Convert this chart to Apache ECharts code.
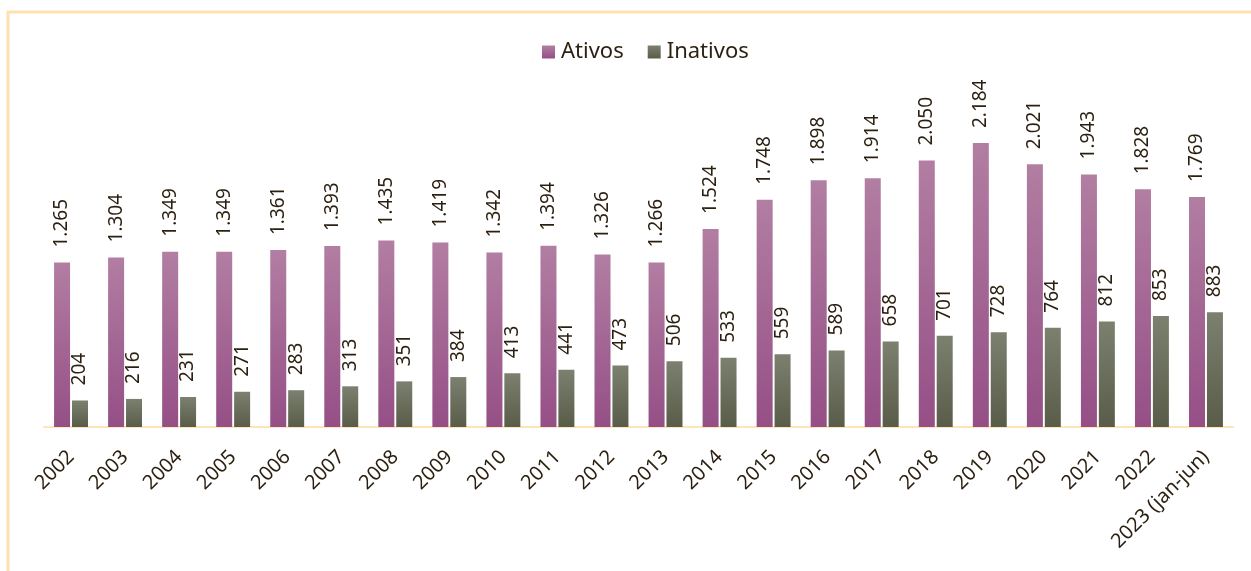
<!DOCTYPE html>
<html>
<head>
<meta charset="utf-8">
<script src="https://cdn.jsdelivr.net/npm/echarts@6/dist/echarts.min.js"></script>
<style>
  html, body { margin: 0; padding: 0; background: #fff; }
  #chart { width: 1251px; height: 571px; }
</style>
</head>
<body>
<div id="chart"></div>
<script>
const years = ['2002', '2003', '2004', '2005', '2006', '2007', '2008', '2009', '2010', '2011',
  '2012', '2013', '2014', '2015', '2016', '2017', '2018', '2019', '2020', '2021', '2022', '2023 (jan-jun)']
const ativos = [1265, 1304, 1349, 1349, 1361, 1393, 1435, 1419, 1342, 1394, 1326, 1266,
  1524, 1748, 1898, 1914, 2050, 2184, 2021, 1943, 1828, 1769]
const inativos = [204, 216, 231, 271, 283, 313, 351, 384, 413, 441, 473, 506,
  533, 559, 589, 658, 701, 728, 764, 812, 853, 883]

const textColor = '#2b1f10'
const font = 'Noto Sans'

// 1.265 style thousands separator
const fmt = v => String(v).replace(/\B(?=(\d{3})+(?!\d))/g, '.')

const grad = (top, bottom) => new echarts.graphic.LinearGradient(0, 0, 0, 1, [
  { offset: 0, color: top },
  { offset: 1, color: bottom }
])

const barLabel = {
  show: true,
  position: 'top',
  rotate: 90,
  align: 'left',
  verticalAlign: 'middle',
  distance: 15,
  color: textColor,
  fontFamily: font,
  fontSize: 19,
  formatter: p => fmt(p.value)
}

const chart = echarts.init(document.getElementById('chart'))
const option = {
  animation: false,
  textStyle: { fontFamily: font },
  legend: {
    top: 36,
    left: 537,
    itemWidth: 13,
    itemHeight: 13,
    itemGap: 24,
    itemStyle: { borderWidth: 0 },
    icon: 'rect',
    textStyle: { color: textColor, fontSize: 22, fontFamily: font, padding: [0, 0, 0, 1] }
  },
  graphic: [
    { type: 'line', shape: { x1: 7, y1: 12, x2: 1251, y2: 12 }, style: { stroke: '#ffe1b0', lineWidth: 3 } },
    { type: 'line', shape: { x1: 8, y1: 11, x2: 8, y2: 571 }, style: { stroke: '#ffe1b0', lineWidth: 3 } }
  ],
  grid: { left: 44, right: 18, top: 102, bottom: 144, containLabel: false },
  xAxis: {
    type: 'category',
    data: years,
    axisLine: { lineStyle: { color: '#ffe4b8', width: 2 } },
    axisTick: { show: false },
    axisLabel: {
      rotate: 45,
      margin: 27,
      interval: 0,
      color: textColor,
      fontSize: 20,
      fontFamily: font
    }
  },
  yAxis: {
    type: 'value',
    min: 0,
    max: 2500,
    show: false,
    splitLine: { show: false }
  },
  series: [
    {
      name: 'Ativos',
      type: 'bar',
      data: ativos,
      barWidth: 16,
      barGap: '12%',
      itemStyle: { color: grad('#b27ea2', '#954f86') },
      label: barLabel
    },
    {
      name: 'Inativos',
      type: 'bar',
      data: inativos,
      barWidth: 16,
      itemStyle: { color: grad('#7c806f', '#585c48') },
      label: barLabel
    }
  ]
}
chart.setOption(option)
</script>
</body>
</html>
